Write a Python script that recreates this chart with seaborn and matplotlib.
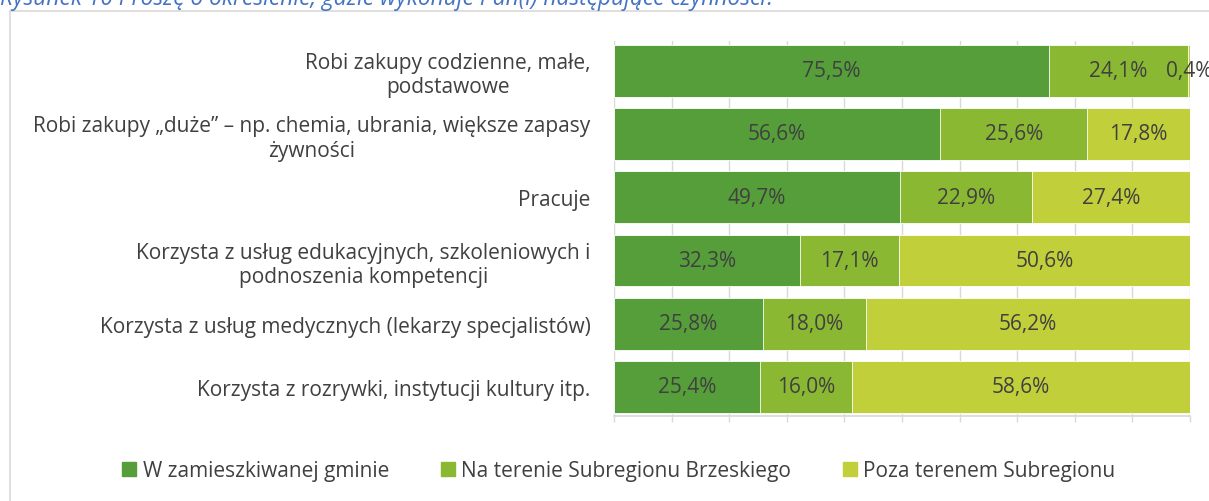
import matplotlib
matplotlib.use("Agg")
import matplotlib.pyplot as plt
import matplotlib.patches as mpatches
import numpy as np
import pandas as pd
import seaborn as sns

categories = [
    "Robi zakupy codzienne, małe,\npodstawowe",
    "Robi zakupy „duże” – np. chemia, ubrania, większe zapasy\nżywności",
    "Pracuje",
    "Korzysta z usług edukacyjnych, szkoleniowych i\npodnoszenia kompetencji",
    "Korzysta z usług medycznych (lekarzy specjalistów)",
    "Korzysta z rozrywki, instytucji kultury itp.",
]
w_gminie = [75.5, 56.6, 49.7, 32.3, 25.8, 25.4]
subregion = [24.1, 25.6, 22.9, 17.1, 18.0, 16.0]
poza = [0.4, 17.8, 27.4, 50.6, 56.2, 58.6]
series_names = ["W zamieszkiwanej gminie", "Na terenie Subregionu Brzeskiego",
                "Poza terenem Subregionu"]
colors = ["#559E3A", "#8AB833", "#C0CF3A"]

sns.set_theme(style="white")
plt.rcParams["font.family"] = ["Open Sans", "DejaVu Sans"]

df = pd.DataFrame({"cat": categories, "a": w_gminie, "b": subregion, "c": poza})
df["cum1"] = df["a"]
df["cum2"] = df["a"] + df["b"]
df["cum3"] = df["a"] + df["b"] + df["c"]

fig = plt.figure(figsize=(12.09, 5.02), dpi=100)
ax = fig.add_axes([614 / 1209, 1 - 417 / 502, (1190 - 614) / 1209, (417 - 42) / 502])

# stacked bars drawn as overlapping cumulative totals
for col, color in zip(["cum3", "cum2", "cum1"], colors[::-1]):
    sns.barplot(data=df, x=col, y="cat", color=color, orient="h", width=0.82,
                saturation=1, edgecolor="white", linewidth=0.6, ax=ax, zorder=3)

# value labels centred in each segment
for i in range(len(categories)):
    starts = [0, df["cum1"][i], df["cum2"][i]]
    vals = [df["a"][i], df["b"][i], df["c"][i]]
    for s, v in zip(starts, vals):
        ax.text(s + v / 2, i, f"{v:.1f}%".replace(".", ","), ha="center", va="center",
                fontsize=15, color="#404040", zorder=5, clip_on=False)

ax.set_xlim(0, 100)
ax.set_ylim(5.46, -0.47)
ax.set_xlabel("")
ax.set_ylabel("")
ax.set_xticks(np.arange(0, 101, 10))
ax.set_xticklabels([])
ax.tick_params(axis="x", length=4, width=1, color="#D9D9D9", bottom=True, direction="out")
ax.tick_params(axis="y", length=0, pad=17, labelsize=15, labelcolor="#404040")
for lbl in ax.get_yticklabels():
    lbl.set_multialignment("center")
ax.grid(axis="x", color="#D9D9D9", linewidth=1, zorder=0)
ax.set_axisbelow(True)
for side in ["top", "right", "left"]:
    ax.spines[side].set_visible(False)
ax.spines["bottom"].set_color("#D9D9D9")

# chart frame
fig.patches.append(mpatches.Rectangle((10 / 1209, -0.1), 1.2, 1.1 - 12 / 502,
                                      transform=fig.transFigure, fill=False,
                                      edgecolor="#D9D9D9", linewidth=1.2))

fig.text(0.0, 1 - 5 / 502, "Rysunek 10 Proszę o określenie, gdzie wykonuje Pan(i) następujące czynności?",
         ha="left", va="baseline", fontsize=16.4, style="italic", color="#4472C4")

handles = [mpatches.Patch(color=c, label=n) for c, n in zip(colors, series_names)]
fig.legend(handles=handles, loc="center", bbox_to_anchor=(0.512, 1 - 472 / 502), ncol=3,
           frameon=False, fontsize=15, handlelength=0.67, handleheight=0.67,
           handletextpad=0.3, columnspacing=2.5, labelcolor="#404040")

fig.savefig("out.png", dpi=100)
